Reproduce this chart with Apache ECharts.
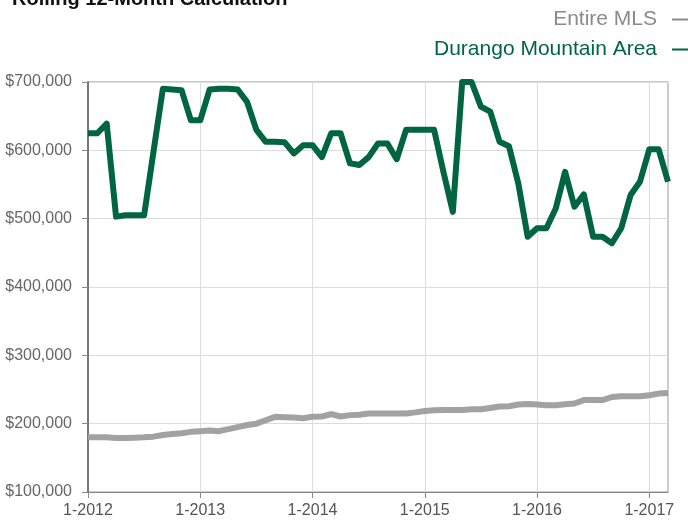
<!DOCTYPE html>
<html><head><meta charset="utf-8">
<script src="https://cdn.jsdelivr.net/npm/echarts@6/dist/echarts.min.js"></script>
<style>html,body{margin:0;padding:0;background:#fff}#c{width:688px;height:520px}</style>
</head><body><div id="c"></div>
<script>
const titleText = 'Rolling 12-Month Calculation';
const seriesNames = ['Entire MLS', 'Durango Mountain Area'];
const years = [2012, 2013, 2014, 2015, 2016, 2017];
const months = [];
for (const y of years) for (let m = 1; m <= 12; m++) { if (y === 2017 && m > 3) break; months.push(m + '-' + y); }
const entireMLS = [180000,180000,180000,179000,179000,179500,180000,181000,183500,185000,186000,188000,
 189000,190000,189000,192000,195000,198000,200000,205000,210000,209500,209000,208000,
 210000,210500,214000,210500,212500,213000,215000,215000,215000,215000,215000,216500,
 218500,219500,220000,220000,220000,221000,221000,223000,225000,225500,228000,228800,
 228000,227000,227000,228500,229500,234500,234600,234600,239000,240000,240000,240000,
 241500,244000,245000];
const durango = [625000,625000,639000,503000,505000,505000,505000,598000,690000,689000,688000,644000,
 644000,689000,690000,690000,689000,671000,630000,612500,612500,612000,595500,607500,
 607500,590000,625000,625000,581000,578500,590000,610000,610000,587000,630000,630000,
 630000,630000,568000,510000,700000,700000,664000,656500,612500,606000,551500,473500,
 486000,486000,515000,568500,517500,535500,473500,473500,464000,486000,534500,554000,
 601500,601500,554000];
const yTicks = [100000, 700000, 100000]; // min, max, interval
const colors = ['#a2a2a2', '#006540'];
const FONT = 'Liberation Sans, Arial, sans-serif';

const chart = echarts.init(document.getElementById('c'));
chart.setOption({
  animation: false,
  textStyle: { fontFamily: FONT },
  title: { text: titleText, left: 12, top: -11, padding: 0,
    textStyle: { fontSize: 20, fontWeight: 'bold', color: '#111', fontFamily: FONT } },
  legend: {
    orient: 'vertical', right: 0, top: 9, padding: 0, align: 'right', itemGap: 9,
    itemWidth: 16, itemHeight: 2, icon: 'rect',
    textStyle: { fontSize: 21, fontFamily: FONT, lineHeight: 21, padding: [0, 10, 0, 0] },
    data: [
      { name: seriesNames[0], textStyle: { color: '#8a8a8a' }, itemStyle: { color: '#8a8a8a' } },
      { name: seriesNames[1], textStyle: { color: colors[1] }, itemStyle: { color: colors[1] } }
    ]
  },
  grid: { left: 88, right: 20, top: 82, bottom: 28, show: true, borderColor: '#999', borderWidth: 1 },
  xAxis: {
    type: 'category', data: months, boundaryGap: false,
    axisLine: { lineStyle: { color: '#888', width: 1 } },
    axisTick: { interval: 11, length: 6, lineStyle: { color: '#888' } },
    axisLabel: { interval: 11, fontSize: 16, color: '#555', margin: 11, fontFamily: FONT },
    splitLine: { show: true, interval: 11, lineStyle: { color: '#dcdcdc' } }
  },
  yAxis: {
    type: 'value', min: yTicks[0], max: yTicks[1], interval: yTicks[2],
    axisLine: { show: true, lineStyle: { color: '#777', width: 2 } },
    axisTick: { show: true, length: 6, lineStyle: { color: '#888' } },
    axisLabel: { fontSize: 16, color: '#666', margin: 16, fontFamily: FONT,
      formatter: v => '$' + v.toLocaleString('en-US') },
    splitLine: { lineStyle: { color: '#dcdcdc' } }
  },
  series: [
    { name: seriesNames[0], type: 'line', data: entireMLS, symbol: 'none', lineStyle: { width: 6, color: colors[0], join: 'round' }, itemStyle: { color: colors[0] } },
    { name: seriesNames[1], type: 'line', data: durango, symbol: 'none', lineStyle: { width: 6, color: colors[1], join: 'round' }, itemStyle: { color: colors[1] } }
  ]
});
</script></body></html>
